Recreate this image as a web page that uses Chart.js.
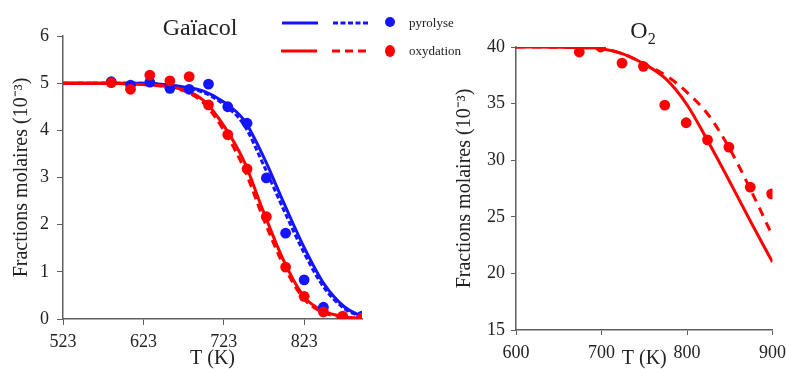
<!DOCTYPE html>
<html lang="fr">
<head>
    <meta charset="UTF-8">
    <title>Gaïacol et O2</title>
    <script src="https://cdn.jsdelivr.net/npm/chart.js"></script>
    <style>
        body {
            margin: 0;
            background: #fff;
            font-family: 'Liberation Serif', 'Times New Roman', serif;
            color: #222;
        }
        #wrap {
            position: relative;
            width: 786px;
            height: 369px;
            overflow: hidden;
        }
        canvas {
            position: absolute;
            top: 0;
        }
        #gaiacolChart { left: 0; }
        #o2Chart { left: 400px; }
        .title {
            position: absolute;
            font-size: 24px;
            line-height: 24px;
            transform: translateX(-50%);
            white-space: nowrap;
        }
        .title sub { font-size: 16px; line-height: 0; }
        #legend {
            position: absolute;
            left: 0;
            top: 0;
        }
    </style>
</head>
<body>
<div id="wrap">
    <canvas id="gaiacolChart" width="400" height="369"></canvas>
    <!-- a bit wider than the window so the 900 label may touch the edge -->
    <canvas id="o2Chart" width="393" height="369"></canvas>
    <div class="title" style="left:200px; top:15px;">Gaïacol</div>
    <div class="title" style="left:643px; top:18px;">O<sub>2</sub></div>
    <svg id="legend" width="786" height="70">
        <line x1="282" y1="23" x2="318" y2="23" stroke="#1414ff" stroke-width="3"/>
        <line x1="333" y1="23" x2="368" y2="23" stroke="#1414ff" stroke-width="3" stroke-dasharray="5,2.5"/>
        <circle cx="390" cy="22" r="5" fill="#1414ff"/>
        <text x="409" y="27" font-family="Liberation Serif" font-size="13" fill="#222">pyrolyse</text>
        <line x1="281" y1="51" x2="317" y2="51" stroke="#ff0000" stroke-width="3"/>
        <line x1="332" y1="51" x2="367" y2="51" stroke="#ff0000" stroke-width="3" stroke-dasharray="8,5"/>
        <ellipse cx="390" cy="51" rx="5" ry="6" fill="#ff0000"/>
        <text x="409" y="55" font-family="Liberation Serif" font-size="13" fill="#222">oxydation</text>
    </svg>
</div>
<script>
    // Gaïacol (10^-3)
    const gaiacolTicks = [523, 623, 723, 823];
    const modelTempG = [523, 548, 573, 598, 623, 648, 673, 698, 723, 748, 773, 798, 823, 848, 873, 895];
    const pyroModel = [5.0, 5.0, 5.0, 5.0, 5.0, 4.97, 4.92, 4.83, 4.6, 4.22, 3.42, 2.45, 1.52, 0.74, 0.26, 0.05];
    const pyroModelBis = [5.0, 5.0, 5.0, 5.0, 5.0, 4.97, 4.91, 4.8, 4.55, 4.12, 3.25, 2.3, 1.4, 0.66, 0.22, 0.04];
    const oxyModel = [5.0, 5.0, 5.0, 4.99, 4.97, 4.94, 4.86, 4.63, 4.1, 3.35, 2.25, 1.22, 0.47, 0.16, 0.05, 0.01];
    const oxyModelBis = [5.0, 5.0, 5.0, 4.99, 4.97, 4.93, 4.84, 4.58, 4.0, 3.2, 2.1, 1.12, 0.42, 0.13, 0.04, 0.01];
    const expTempG = [583, 607, 631, 656, 680, 704, 728, 752, 776, 800, 823, 847, 871, 895];
    const pyroExp = [5.03, 4.96, 5.02, 4.89, 4.87, 4.98, 4.5, 4.15, 2.99, 1.82, 0.83, 0.25, 0.03, 0.06];
    const oxyExp = [5.01, 4.87, 5.17, 5.05, 5.14, 4.54, 3.91, 3.18, 2.17, 1.1, 0.48, 0.15, 0.06, 0.02];

    // O2 (10^-3)
    const modelTempO2 = [600, 625, 650, 675, 700, 725, 750, 775, 800, 825, 850, 875, 900];
    const o2Model = [40.0, 40.0, 39.98, 39.94, 39.85, 39.4, 38.5, 37.2, 34.9, 31.6, 28.1, 24.5, 21.0];
    const o2ModelBis = [40.0, 40.0, 39.98, 39.94, 39.85, 39.4, 38.5, 37.5, 36.0, 34.0, 31.0, 27.3, 23.3];
    const expTempO2 = [674, 699, 724, 749, 774, 799, 824, 849, 874, 899];
    const o2Exp = [39.56, 40.0, 38.58, 38.29, 34.87, 33.31, 31.8, 31.16, 27.62, 27.03];

    const BLUE = '#1414ff';
    const RED = '#ff0000';
    const AXIS = '#5f5f5f';
    const TXT = '#222';
    const serif = 'Liberation Serif';

    const pts = (xs, ys) => xs.map((x, i) => ({ x: x, y: ys[i] }));

    function curve(xs, ys, color, dash) {
        return {
            data: pts(xs, ys),
            showLine: true,
            borderColor: color,
            borderWidth: 3,
            borderDash: dash || [],
            pointRadius: 0,
            cubicInterpolationMode: 'monotone',
            fill: false
        };
    }

    function dots(xs, ys, color) {
        return {
            data: pts(xs, ys),
            showLine: false,
            backgroundColor: color,
            borderColor: color,
            borderWidth: 0,
            pointRadius: 5.4
        };
    }

    Chart.defaults.font.family = serif;
    Chart.defaults.color = TXT;

    new Chart(document.getElementById('gaiacolChart'), {
        type: 'scatter',
        data: {
            datasets: [
                dots(expTempG, oxyExp, RED),
                dots(expTempG, pyroExp, BLUE),
                curve(modelTempG, oxyModel, RED),
                curve(modelTempG, oxyModelBis, RED, [8, 5]),
                curve(modelTempG, pyroModel, BLUE),
                curve(modelTempG, pyroModelBis, BLUE, [5, 2.5])
            ]
        },
        options: {
            responsive: false,
            animation: false,
            layout: { padding: { left: 0, top: 36, right: 38, bottom: 0 } },
            plugins: { legend: { display: false }, tooltip: { enabled: false } },
            scales: {
                x: {
                    type: 'linear',
                    min: 523,
                    max: 895,
                    afterBuildTicks: s => { s.ticks = gaiacolTicks.map(v => ({ value: v })); },
                    afterFit: s => { s.height = 50; },
                    grid: { drawOnChartArea: false, tickLength: 6, color: AXIS },
                    border: { color: AXIS, width: 1.5 },
                    ticks: { padding: 6, font: { size: 18 }, color: TXT, maxRotation: 0 },
                    title: { display: true, text: 'T (K)', padding: 0, font: { size: 20, lineHeight: 1 }, color: TXT }
                },
                y: {
                    min: 0,
                    max: 6,
                    afterFit: s => { s.width = 63; },
                    grid: { drawOnChartArea: false, tickLength: 6, color: AXIS },
                    border: { color: AXIS, width: 1.5 },
                    ticks: { stepSize: 1, padding: 8, font: { size: 18 }, color: TXT },
                    title: { display: true, text: 'Fractions molaires (10⁻³)', padding: { top: 10, bottom: 0 }, font: { size: 20 }, color: TXT }
                }
            }
        }
    });

    new Chart(document.getElementById('o2Chart'), {
        type: 'scatter',
        data: {
            datasets: [
                dots(expTempO2, o2Exp, RED),
                curve(modelTempO2, o2Model, RED),
                curve(modelTempO2, o2ModelBis, RED, [9, 7])
            ]
        },
        options: {
            responsive: false,
            animation: false,
            layout: { padding: { left: 0, top: 47, right: 7, bottom: 0 } },
            plugins: { legend: { display: false }, tooltip: { enabled: false } },
            scales: {
                x: {
                    type: 'linear',
                    min: 600,
                    max: 900,
                    afterFit: s => { s.height = 39; },
                    grid: { drawOnChartArea: false, tickLength: 5, color: AXIS },
                    border: { color: AXIS, width: 1.5 },
                    ticks: { stepSize: 100, padding: 7, font: { size: 18 }, color: TXT, maxRotation: 0 },
                    title: { display: true, text: 'T (K)', padding: 0, font: { size: 20, lineHeight: 1 }, color: TXT }
                },
                y: {
                    min: 15,
                    max: 40,
                    afterFit: s => { s.width = 116; },
                    grid: { drawOnChartArea: false, tickLength: 5, color: AXIS },
                    border: { color: AXIS, width: 1.5 },
                    ticks: { stepSize: 5, padding: 6, font: { size: 18 }, color: TXT },
                    title: { display: true, text: 'Fractions molaires (10⁻³)', padding: { top: 53, bottom: 0 }, font: { size: 20 }, color: TXT }
                }
            }
        }
    });
</script>
</body>
</html>
